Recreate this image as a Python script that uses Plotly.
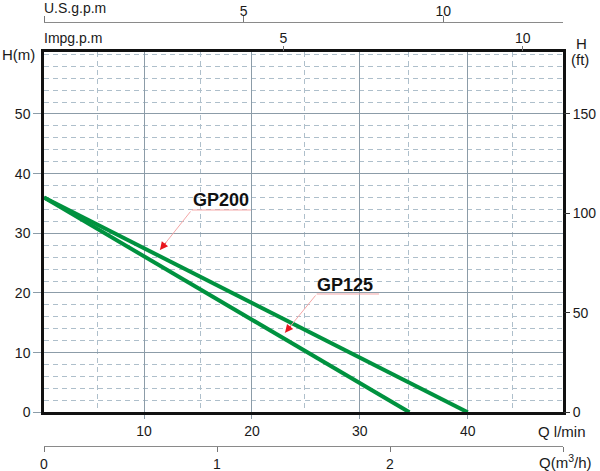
import plotly.graph_objects as go

# ---- data ----
q_gp200 = [0.73, 10, 20, 30, 40]          # Q l/min
h_gp200 = [36.0, 27.5, 18.3, 9.2, 0.0]    # H m
q_gp125 = [0.73, 10, 20, 30, 34.6]
h_gp125 = [36.0, 26.1, 15.5, 4.9, 0.0]

lmin_ticks = [10, 20, 30, 40]
m3h_ticks = [0, 1, 2, 3]
m3h_text = ["0", "1", "2", ""]
usgpm_ticks = [0, 5, 10]
usgpm_text = ["", "5", "10"]
impg_ticks = [5, 10]
hm_ticks = [0, 10, 20, 30, 40, 50]
hft_ticks = [0, 50, 100, 150]

GREEN = "#00923f"
FONT = "Liberation Sans, Arial, sans-serif"
TXT = "#1a1a1a"
MAJ = "#8c9ca8"
MIN = "#aebfcb"

fig = go.Figure()
fig.add_trace(go.Scatter(x=q_gp200, y=h_gp200, mode="lines",
                         line=dict(color=GREEN, width=4), name="GP200",
                         showlegend=False))
fig.add_trace(go.Scatter(x=q_gp125, y=h_gp125, mode="lines",
                         line=dict(color=GREEN, width=4), name="GP125",
                         showlegend=False))
# dummy traces to activate secondary axes
for xa, ya in [("x2", "y"), ("x3", "y"), ("x4", "y"), ("x", "y2")]:
    fig.add_trace(go.Scatter(x=[None], y=[None], xaxis=xa, yaxis=ya,
                             showlegend=False, hoverinfo="skip"))

ydom = [0.11649, 0.89740]

fig.update_layout(
    width=600, height=471,
    margin=dict(l=44, r=37, t=5, b=5, autoexpand=False),
    paper_bgcolor="white", plot_bgcolor="white",
    font=dict(family=FONT, size=14, color=TXT),
    xaxis=dict(
        range=[0.732, 48.83], domain=[0, 1], automargin=False,
        tickvals=lmin_ticks, ticks="outside", ticklen=4, tickcolor=MAJ,
        showgrid=True, gridcolor=MAJ, gridwidth=1.2,
        minor=dict(tick0=5.644, dtick=9.62, showgrid=True, gridcolor=MIN,
                   griddash="5px,4px", gridwidth=1, ticks=""),
        showline=True, linecolor="#111", linewidth=2.5, mirror=True,
        zeroline=False, tickfont=dict(size=14, color=TXT),
    ),
    xaxis2=dict(  # m3/h
        range=[0, 3], overlaying="x", anchor="free", position=0.04403,
        side="bottom", tickvals=m3h_ticks, ticktext=m3h_text, automargin=False,
        ticks="outside", ticklen=5, tickcolor="#777",
        showline=True, linecolor="#8a8a8a", linewidth=1.2,
        showgrid=False, zeroline=False, tickfont=dict(size=14, color=TXT),
    ),
    xaxis3=dict(  # Impg.p.m
        range=[0, 10.84], overlaying="x", anchor="y", side="top",
        tickvals=impg_ticks, ticks="outside", ticklen=5, tickcolor="#777",
        showline=False, showgrid=False, zeroline=False, automargin=False,
        ticklabelstandoff=-2,
        tickfont=dict(size=14, color=TXT),
    ),
    xaxis4=dict(  # U.S.g.p.m
        range=[0, 13.0], overlaying="x", anchor="free", position=0.96247,
        side="top", tickvals=usgpm_ticks, ticktext=usgpm_text, automargin=False,
        ticks="outside", ticklen=6, tickcolor="#777", ticklabelstandoff=-5,
        showline=True, linecolor="#8a8a8a", linewidth=1.2,
        showgrid=False, zeroline=False, tickfont=dict(size=14, color=TXT),
    ),
    yaxis=dict(
        range=[0, 60.34], domain=ydom, automargin=False,
        tickvals=hm_ticks, ticks="outside", ticklen=8, tickcolor=MAJ,
        showgrid=True, gridcolor=MAJ, gridwidth=1.2,
        minor=dict(dtick=2, showgrid=True, gridcolor=MIN,
                   griddash="5px,4px", gridwidth=1, ticks=""),
        showline=True, linecolor="#111", linewidth=2.5, mirror=True,
        zeroline=False, tickfont=dict(size=14, color=TXT),
    ),
    yaxis2=dict(
        range=[0, 180.9], overlaying="y", side="right", anchor="x",
        tickvals=hft_ticks, ticks="outside", ticklen=6, tickcolor="#333",
        showgrid=False, showline=False, zeroline=False, automargin=False,
        tickfont=dict(size=14, color=TXT),
    ),
)

# axis titles as free text
labels = [
    dict(text="U.S.g.p.m", x=42, y=8, xanchor="left", size=14),
    dict(text="Impg.p.m", x=42, y=38, xanchor="left", size=14),
    dict(text="H(m)", x=0, y=54, xanchor="left", size=15),
    dict(text="H", x=582, y=43.5, xanchor="center", size=15),
    dict(text="(ft)", x=580, y=60, xanchor="center", size=15),
    dict(text="Q l/min", x=588, y=431.5, xanchor="right", size=15),
    dict(text="Q(m<sup>3</sup>/h)", x=594, y=461, xanchor="right", size=15),
]
for lb in labels:
    fig.add_annotation(text=lb["text"], xref="paper", yref="paper",
                       x=(lb["x"] - 44) / 519, y=(466 - lb["y"]) / 461,
                       xanchor=lb["xanchor"], yanchor="middle",
                       showarrow=False, font=dict(size=lb["size"], color=TXT))

# curve callouts
callouts = [
    dict(name="GP200", tx=17.13, ty=35.58, ux0=14.42, ux1=19.91, uy=33.91,
         hx=11.48, hy=27.2, ax=31.7, ay=-40),
    dict(name="GP125", tx=28.67, ty=21.34, ux0=26.0, ux1=31.78, uy=19.83,
         hx=23.07, hy=13.34, ax=31.7, ay=-38.7),
]
for c in callouts:
    fig.add_annotation(text="<b>%s</b>" % c["name"], x=c["tx"], y=c["ty"],
                       xref="x", yref="y", showarrow=False,
                       font=dict(size=18, color="#111"))
    fig.add_shape(type="line", xref="x", yref="y",
                  x0=c["ux0"], x1=c["ux1"], y0=c["uy"], y1=c["uy"],
                  line=dict(color="#f4a6a6", width=1))
    fig.add_annotation(text="", x=c["hx"], y=c["hy"], xref="x", yref="y",
                       ax=c["ax"], ay=c["ay"], showarrow=True, arrowhead=0,
                       arrowwidth=1, arrowcolor="#f4a6a6", standoff=0)
    fig.add_annotation(text="", x=c["hx"], y=c["hy"], xref="x", yref="y",
                       ax=c["ax"] * 0.22, ay=c["ay"] * 0.22, showarrow=True,
                       arrowhead=2, arrowsize=1.6, arrowwidth=1,
                       arrowcolor="#e8141c", standoff=0)

fig.write_html("out.html", config={"displayModeBar": False},
               post_script="document.body.style.margin='0';"
                           "document.body.style.padding='0';")
